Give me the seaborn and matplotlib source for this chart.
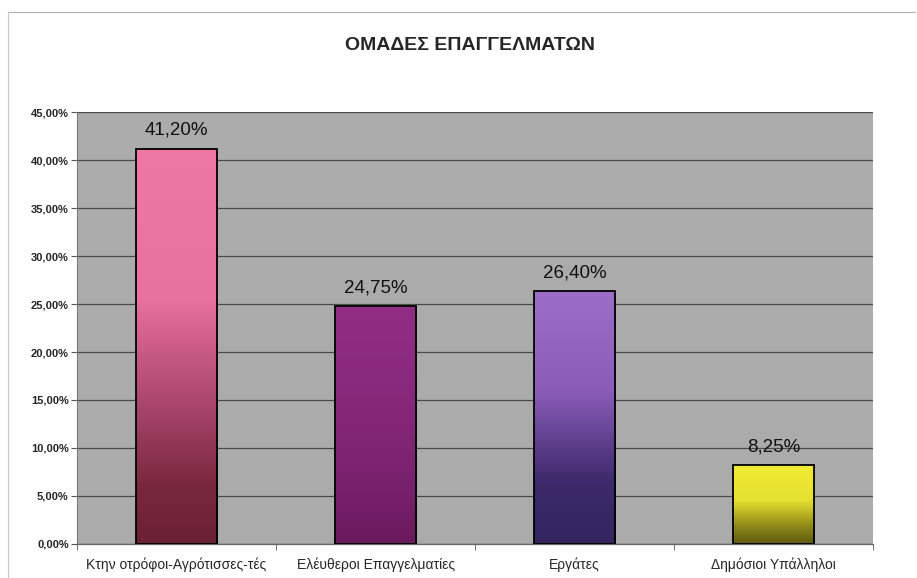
import numpy as np
import pandas as pd
import matplotlib
matplotlib.use('Agg')
import matplotlib.pyplot as plt
import seaborn as sns
from matplotlib.colors import LinearSegmentedColormap
from matplotlib.ticker import MultipleLocator, FuncFormatter

categories = ['Κτην οτρόφοι-Αγρότισσες-τές', 'Ελέυθεροι Επαγγελματίες', 'Εργάτες', 'Δημόσιοι Υπάλληλοι']
values = [41.20, 24.75, 26.40, 8.25]
value_labels = ['41,20%', '24,75%', '26,40%', '8,25%']
title = 'ΟΜΑΔΕΣ ΕΠΑΓΓΕΛΜΑΤΩΝ'

# gradient stops per bar: (fraction of bar height from bottom, colour)
gradients = [
    [(0.0, '#6a2035'), (0.15, '#7a2842'), (0.45, '#c0557e'), (0.62, '#e8729c'), (1.0, '#ee78a2')],
    [(0.0, '#6a1a5e'), (0.3, '#7c2270'), (0.7, '#8a2a7e'), (1.0, '#902e84')],
    [(0.0, '#35245e'), (0.25, '#3e2a6c'), (0.6, '#8a5cb8'), (1.0, '#9c6ec6')],
    [(0.0, '#5e5a10'), (0.2, '#8a8418'), (0.55, '#e6e030'), (1.0, '#f2ec34')],
]

sns.set_style('white')
plt.rcParams['font.family'] = ['Liberation Sans', 'DejaVu Sans']

fig = plt.figure(figsize=(9.17, 5.78), dpi=100)
ax = fig.add_axes([0.084, 0.059, 0.868, 0.747])

df = pd.DataFrame({'cat': categories, 'val': values})
sns.barplot(data=df, x='cat', y='val', ax=ax, width=0.41,
            facecolor='none', edgecolor='black', linewidth=1.3, zorder=3)

ax.set_facecolor('#ababab')
ax.yaxis.set_major_locator(MultipleLocator(5))
ax.yaxis.set_major_formatter(FuncFormatter(lambda v, p: f'{v:.2f}'.replace('.', ',') + '%'))
ax.grid(axis='y', color='#4a4a4a', linewidth=0.9, zorder=0)
ax.set_axisbelow(True)

# gradient fill clipped to each bar
for patch, stops, lab in zip(ax.patches, gradients, value_labels):
    x0, y0 = patch.get_x(), patch.get_y()
    w, h = patch.get_width(), patch.get_height()
    cmap = LinearSegmentedColormap.from_list('g', stops)
    grad = np.linspace(0, 1, 256).reshape(-1, 1)
    im = ax.imshow(grad, cmap=cmap, origin='lower', aspect='auto',
                   extent=[x0, x0 + w, y0, y0 + h], zorder=2)
    im.set_clip_path(patch)
    ax.text(x0 + w / 2, y0 + h + 1.0, lab, ha='center', va='bottom', fontsize=13.5, color='#111111')

ax.set_ylim(0, 45)
ax.set_xlim(-0.5, len(categories) - 0.5)
ax.set_xlabel('')
ax.set_ylabel('')

for s in ['top', 'right']:
    ax.spines[s].set_visible(False)
ax.spines['left'].set_color('#777777')
ax.spines['bottom'].set_color('#666666')
ax.spines['left'].set_linewidth(0.8)
ax.spines['bottom'].set_linewidth(0.9)

ax.tick_params(axis='y', labelsize=8, length=4, color='#555555', left=True, pad=2)
ax.tick_params(axis='x', labelsize=10, length=0, pad=10)
ax.set_xticks(np.arange(len(categories) + 1) - 0.5, minor=True)
ax.tick_params(axis='x', which='minor', length=4, color='#555555', bottom=True)
for t in ax.get_yticklabels():
    t.set_fontweight('bold')

fig.text(0.512, 0.922, title, ha='center', va='center', fontsize=14, fontweight='bold')

# chart border lines
fig.add_artist(plt.Line2D([0.009, 0.998], [0.979, 0.979], color='#b0b0b0', linewidth=0.8))
fig.add_artist(plt.Line2D([0.009, 0.009], [0.0, 0.979], color='#c8c8c8', linewidth=0.8))

fig.savefig('out.png', dpi=100)
